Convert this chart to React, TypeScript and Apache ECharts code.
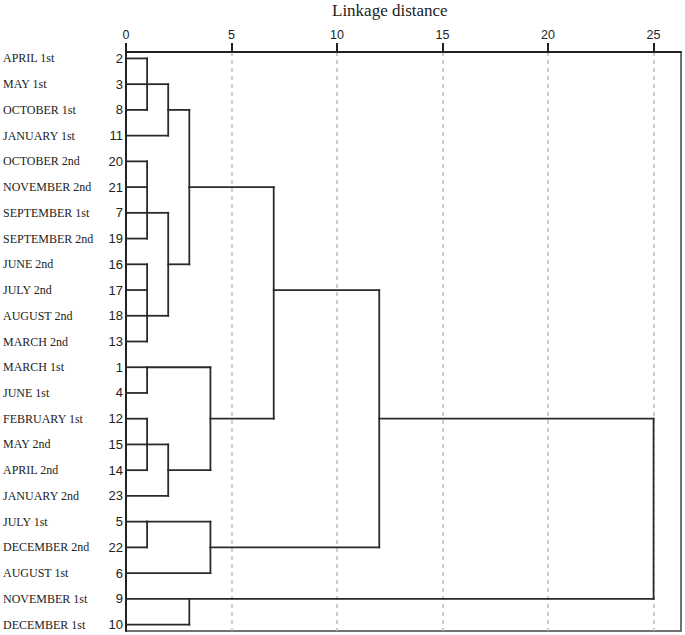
import React, { useEffect, useRef } from "react";
import * as echarts from "echarts";

// Leaves, top to bottom
const leafNames = [
  "APRIL 1st", "MAY 1st", "OCTOBER 1st", "JANUARY 1st", "OCTOBER 2nd", "NOVEMBER 2nd",
  "SEPTEMBER 1st", "SEPTEMBER 2nd", "JUNE 2nd", "JULY 2nd", "AUGUST 2nd", "MARCH 2nd",
  "MARCH 1st", "JUNE 1st", "FEBRUARY 1st", "MAY 2nd", "APRIL 2nd", "JANUARY 2nd",
  "JULY 1st", "DECEMBER 2nd", "AUGUST 1st", "NOVEMBER 1st", "DECEMBER 1st",
];
const leafIds = [2, 3, 8, 11, 20, 21, 7, 19, 16, 17, 18, 13, 1, 4, 12, 15, 14, 23, 5, 22, 6, 9, 10];

// Clusters (c1..c16): children (leaf ids or cluster names), linkage distance, anchor leaf of link to parent
const clusterChildren: (number | string)[][] = [
  [2, 3, 8], ["c1", 11], [20, 21, 7, 19], [16, 17, 18, 13], ["c3", "c4"], ["c2", "c5"],
  [1, 4], [12, 15, 14], ["c8", 23], ["c7", "c9"], ["c6", "c10"], [5, 22], ["c12", 6],
  ["c11", "c13"], [9, 10], ["c14", "c15"],
];
const clusterHeights = [1, 2, 1, 1, 2, 3, 1, 1, 2, 4, 7, 1, 4, 12, 3, 25];
const clusterAnchors = [3, 8, 7, 18, 16, 21, 1, 15, 14, 12, 17, 5, 22, 12, 9, 12];

const xTicks = [0, 5, 10, 15, 20, 25];

function nodeRow(n: number | string): number {
  if (typeof n === "number") return leafIds.indexOf(n);
  const i = parseInt(n.slice(1), 10) - 1;
  return leafIds.indexOf(clusterAnchors[i]);
}
function nodeHeight(n: number | string): number {
  if (typeof n === "number") return 0;
  return clusterHeights[parseInt(n.slice(1), 10) - 1];
}

function buildSegments(): number[][] {
  const segs: number[][] = [];
  clusterChildren.forEach((children, i) => {
    const h = clusterHeights[i];
    const rows = children.map(nodeRow);
    segs.push([h, Math.min(...rows), h, Math.max(...rows)]);
    children.forEach((c) => {
      const r = nodeRow(c);
      segs.push([nodeHeight(c), r, h, r]);
    });
  });
  return segs;
}

export default function App() {
  const ref = useRef<HTMLDivElement>(null);
  useEffect(() => {
    if (!ref.current) return;
    const chart = echarts.init(ref.current, null, { renderer: "svg" });
    const segs = buildSegments();
    chart.setOption({
      animation: false,
      title: {
        text: "Linkage distance",
        left: 332,
        top: 2,
        padding: 0,
        textStyle: { fontFamily: "Liberation Serif", fontSize: 17, fontWeight: "normal", color: "#222" },
      },
      grid: {
        left: 126,
        right: 4,
        top: 52,
        bottom: 4,
        show: true,
        borderColor: "#444",
        borderWidth: 1.5,
        backgroundColor: "transparent",
      },
      xAxis: {
        type: "value",
        position: "top",
        min: 0,
        max: 26.3,
        interval: 5,
        axisLine: { show: true, onZero: false, lineStyle: { color: "#222", width: 2 } },
        axisTick: { show: true, length: 9, customValues: xTicks, lineStyle: { color: "#222", width: 2 } },
        axisLabel: {
          customValues: xTicks,
          margin: 11,
          fontFamily: "Liberation Sans",
          fontSize: 12.5,
          color: "#222",
        },
        splitLine: { show: true, lineStyle: { color: "#bdbdbd", width: 1.5, type: [4, 4] } },
      },
      yAxis: {
        type: "value",
        min: -0.25,
        max: 22.25,
        inverse: true,
        axisLine: { show: true, onZero: false, lineStyle: { color: "#222", width: 2 } },
        axisTick: { show: false },
        axisLabel: { show: false },
        splitLine: { show: false },
      },
      series: [
        {
          type: "custom",
          data: segs,
          clip: false,
          renderItem: (params: any, api: any) => {
            const p1 = api.coord([api.value(0), api.value(1)]);
            const p2 = api.coord([api.value(2), api.value(3)]);
            return {
              type: "line",
              shape: { x1: p1[0], y1: p1[1], x2: p2[0], y2: p2[1] },
              style: { stroke: "#2a2a2a", lineWidth: 1.8, lineCap: "square" },
            };
          },
        },
        {
          type: "custom",
          data: leafIds.map((id, i) => [0, i]),
          clip: false,
          renderItem: (params: any, api: any) => {
            const i = params.dataIndex;
            const p = api.coord([0, api.value(1)]);
            return {
              type: "group",
              children: [
                {
                  type: "text",
                  style: {
                    text: leafNames[i],
                    x: 3,
                    y: p[1],
                    align: "left",
                    verticalAlign: "middle",
                    fontFamily: "Liberation Serif",
                    fontSize: 12,
                    fill: "#222",
                  },
                },
                {
                  type: "text",
                  style: {
                    text: String(leafIds[i]),
                    x: 123,
                    y: p[1],
                    align: "right",
                    verticalAlign: "middle",
                    fontFamily: "Liberation Sans",
                    fontSize: 13,
                    fill: "#222",
                  },
                },
              ],
            };
          },
        },
      ],
    });
    return () => chart.dispose();
  }, []);
  return <div ref={ref} style={{ width: 685, height: 635, position: "absolute", left: 0, top: 0 }} />;
}
